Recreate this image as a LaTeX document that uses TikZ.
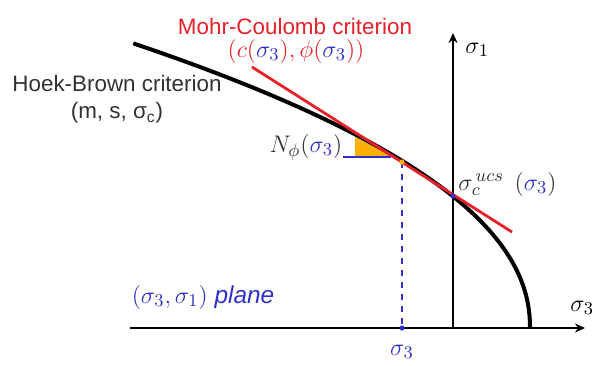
\documentclass[tikz,border=0pt]{standalone}
\usepackage{fontspec}
\setmainfont{Liberation Sans}
\usepackage{xcolor}
\usetikzlibrary{arrows.meta, positioning, calc}
\definecolor{mcred}{RGB}{232,32,40}
\definecolor{sblue}{RGB}{48,48,200}
\definecolor{hbgray}{RGB}{50,50,50}
\definecolor{tri}{RGB}{255,176,0}

\begin{document}
\begin{tikzpicture}[x=0.5pt, y=-0.5pt,
  lbl/.style={inner sep=0pt, font=\fontsize{11.2}{13}\selectfont},
  mlbl/.style={inner sep=0pt, font=\fontsize{12.2}{14}\selectfont},
  axis/.style={line width=1.3pt, -{Stealth[length=5pt, width=4.5pt]}},
  hbcurve/.style={line width=2pt, black},
  mcline/.style={line width=1.4pt, mcred},
  dot/.style={circle, fill, inner sep=0pt, minimum size=2.6pt}
]
\useasboundingbox (0,0) rectangle (592,365);

\coordinate (hl) at (130,328);
\coordinate (hr) at (585,328);
\coordinate (vb) at (453,328);
\coordinate (vt) at (453,33);
\coordinate (mcA) at (252,67);
\coordinate (mcB) at (512,232);
\coordinate (tp) at (402,162);
\coordinate (s3pt) at (402,328);
\coordinate (ucspt) at (453,196);

\fill[tri] (355,137) -- (355,156) -- (393,156) -- cycle;
\draw[sblue, line width=0.9pt] (343,157) -- (391,157);

\draw[axis] (hl) -- (hr);
\draw[axis] (vb) -- (vt);

\draw[hbcurve] plot[domain=0.001:19.92, samples=90, smooth] ({530-\x*\x}, {328-17.1*\x^0.94});
\draw[mcline] (mcA) -- (mcB);
\draw[sblue, line width=0.8pt, dashed] (tp) -- (s3pt);

\node[dot, tri] (tpdot) at (tp) {};
\node[dot, sblue] (s3dot) at (s3pt) {};
\node[dot, sblue] (ucsdot) at (ucspt) {};

\node[lbl, mcred] (mc) at (295,26) {Mohr-Coulomb criterion};
\node[mlbl, mcred] (mcpar) at (296,51) {$(c(\textcolor{sblue}{\sigma_3}),\phi(\textcolor{sblue}{\sigma_3}))$};
\node[lbl, hbgray] (hb) at (117,83) {Hoek-Brown criterion};
\node[lbl, hbgray] (hbpar) at (117,113) {(m, s, σ\textsubscript{c})};
\node[mlbl, hbgray] (nphi) at (306,147) {$N_\phi(\textcolor{sblue}{\sigma_3})$};
\node[mlbl, hbgray, anchor=west] (ucs) at (458,184) {$\sigma_c^{\,ucs}\;\,(\textcolor{sblue}{\sigma_3})$};
\node[mlbl, sblue] (plane) at (203,297) {$(\sigma_3,\sigma_1)$ \textit{plane}};
\node[mlbl, anchor=west] (s1) at (465,50) {$\sigma_1$};
\node[mlbl, anchor=west] (s3ax) at (570,308) {$\sigma_3$};
\node[mlbl, sblue] (s3lbl) at (402,352) {$\sigma_3$};
\end{tikzpicture}
\end{document}
